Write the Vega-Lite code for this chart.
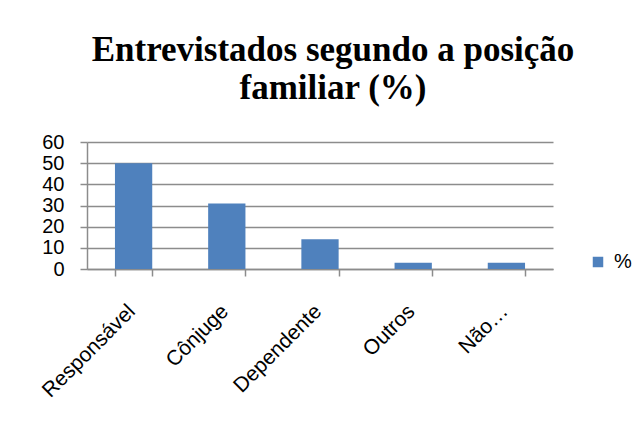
{
  "$schema": "https://vega.github.io/schema/vega-lite/v6.json",
  "autosize": "none",
  "width": 466,
  "height": 127,
  "padding": {"left": 87, "top": 142, "right": 91, "bottom": 154},
  "background": "white",
  "title": {
    "text": ["Entrevistados segundo a posição", "familiar (%)"],
    "font": "Liberation Serif",
    "fontSize": 35,
    "fontWeight": "bold",
    "lineHeight": 38,
    "color": "#000000",
    "anchor": "middle",
    "dx": 13,
    "offset": 26
  },
  "data": {
    "values": [
      {"categoria": "Responsável", "serie": "%", "valor": 50},
      {"categoria": "Cônjuge", "serie": "%", "valor": 31},
      {"categoria": "Dependente", "serie": "%", "valor": 14},
      {"categoria": "Outros", "serie": "%", "valor": 3},
      {"categoria": "Não…", "serie": "%", "valor": 3}
    ]
  },
  "mark": {"type": "bar"},
  "encoding": {
    "x": {
      "field": "categoria",
      "type": "nominal",
      "sort": null,
      "title": null,
      "scale": {"paddingInner": 0.6, "paddingOuter": 0.3},
      "axis": {
        "tickBand": "extent",
        "labelAngle": -45,
        "labelAlign": "right",
        "labelBaseline": "middle",
        "labelFont": "Liberation Sans",
        "labelFontSize": 21,
        "labelColor": "#000000",
        "labelPadding": 32,
        "labelOffset": -2,
        "domainColor": "#8c8c8c",
        "domainWidth": 1.5,
        "tickColor": "#8c8c8c",
        "tickWidth": 1.5,
        "tickSize": 7,
        "grid": false
      }
    },
    "y": {
      "field": "valor",
      "type": "quantitative",
      "title": null,
      "scale": {"domain": [0, 60]},
      "axis": {
        "values": [0, 10, 20, 30, 40, 50, 60],
        "labelFont": "Liberation Sans",
        "labelFontSize": 20,
        "labelColor": "#000000",
        "labelPadding": 16,
        "domainColor": "#8c8c8c",
        "domainWidth": 1.5,
        "tickColor": "#8c8c8c",
        "tickWidth": 1.5,
        "tickSize": 7,
        "gridColor": "#8c8c8c",
        "gridWidth": 1.5,
        "gridOpacity": 1
      }
    },
    "color": {
      "field": "serie",
      "type": "nominal",
      "title": null,
      "scale": {"range": ["#4F81BD"]},
      "legend": {
        "orient": "none",
        "legendX": 501,
        "legendY": 110,
        "symbolType": "square",
        "symbolSize": 110,
        "symbolStrokeWidth": 0,
        "labelFont": "Liberation Sans",
        "labelFontSize": 20,
        "labelColor": "#000000",
        "labelOffset": 6
      }
    }
  },
  "config": {
    "view": {"stroke": null}
  }
}
